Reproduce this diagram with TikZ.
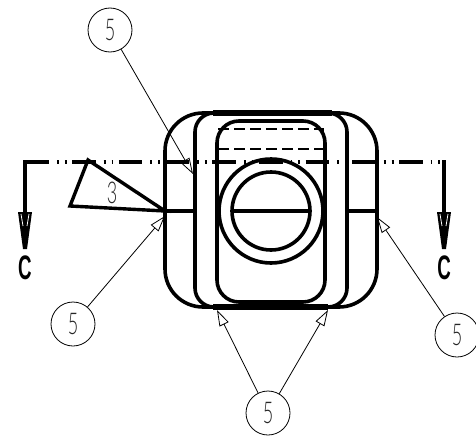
\documentclass[tikz,border=0pt]{standalone}
\usepackage{fontspec}
\setmainfont{Liberation Sans}
\newfontfamily\thinfont{Lato Light}
\usetikzlibrary{arrows.meta}
\tikzset{
  x=1pt,y=-1pt,
  heavy/.style={line width=3.6pt,black},
  bubble/.style={circle,draw,line width=.8pt,minimum size=44pt,inner sep=0pt,font=\thinfont\fontsize{30}{30}\selectfont,text=black!85},
  leader/.style={line width=.8pt,-{Triangle[open,length=16pt,width=10pt,line width=.8pt]},shorten >=0pt},
  cutline/.style={line width=3.8pt,dash pattern=on 23.5pt off 8pt on 1.8pt off 6pt on 1.8pt off 5.6pt},
  seclabel/.style={font=\bfseries\fontsize{34}{34}\selectfont,inner sep=0pt}
}
\begin{document}
\begin{tikzpicture}
\useasboundingbox (0,0) rectangle (476,436);
% body
\draw[heavy,rounded corners=38pt] (165,113) rectangle (377,307);
\draw[heavy,rounded corners=19pt] (195,113) rectangle (347,307);
\draw[heavy,rounded corners=22pt] (217,121) rectangle (325,302);
\draw[line width=5.2pt] (213,113) -- (332,113);
\draw[line width=5.2pt] (213,307) -- (328,307);
\draw[line width=4.6pt] (165,211) -- (195,211);
\draw[line width=4.6pt] (347,211) -- (377,211);
% dashed hidden lines
\draw[line width=2.6pt,dash pattern=on 11pt off 5pt] (218,129) -- (324,129);
\draw[line width=2.6pt,dash pattern=on 11pt off 5pt] (218,149) -- (324,149);
\draw[line width=1pt] (323,129) -- (323,134);
% circles
\draw[heavy] (271,211) circle[radius=52];
\draw[heavy] (271,211) circle[radius=39];
\draw[line width=4.6pt] (232,211) -- (310,211);
% cutting line
\draw[cutline] (25.5,162) -- (444,162);
\draw[line width=3.8pt] (23.5,162) -- (25.5,162);
\draw[line width=3.6pt] (25,160.2) -- (25,214);
\draw[line width=3.6pt] (444,160.2) -- (444,214);
% section arrows
\fill (18,212) -- (32,212) -- (27,249) -- (23,249) -- cycle;
\draw[white,line width=.8pt] (21,214) -- (23,226) (29,214) -- (27,226);
\fill (437,212) -- (451,212) -- (446,249) -- (442,249) -- cycle;
\draw[white,line width=.8pt] (440,214) -- (442,226) (448,214) -- (446,226);
\node[seclabel] (cl) at (25,268) {\scalebox{.55}[1]{C}};
\node[seclabel] (cr) at (444,268) {\scalebox{.55}[1]{C}};
% weld symbol
\draw[line width=3.4pt,line join=miter] (88,160) -- (70,206) -- (165,211) -- cycle;
\node[font=\thinfont\fontsize{30}{30}\selectfont,text=black!85,inner sep=0pt] (w3) at (112,193) {\scalebox{.6}[1]{3}};
% balloons
\node[bubble] (b1) at (110,30) {\scalebox{.6}[1]{5}};
\node[bubble] (b2) at (73,324) {\scalebox{.6}[1]{5}};
\node[bubble] (b3) at (457,335) {\scalebox{.6}[1]{5}};
\node[bubble] (b4) at (268,413) {\scalebox{.6}[1]{5}};
\coordinate (t1) at (193,174);
\coordinate (t2) at (165,216);
\coordinate (t3) at (377,217);
\coordinate (t4) at (217,310);
\coordinate (t5) at (328,310);
\draw[leader] (b1) -- (t1);
\draw[leader] (b2) -- (t2);
\draw[leader] (b3) -- (t3);
\draw[leader] (b4) -- (t4);
\draw[leader] (b4) -- (t5);
\end{tikzpicture}
\end{document}
